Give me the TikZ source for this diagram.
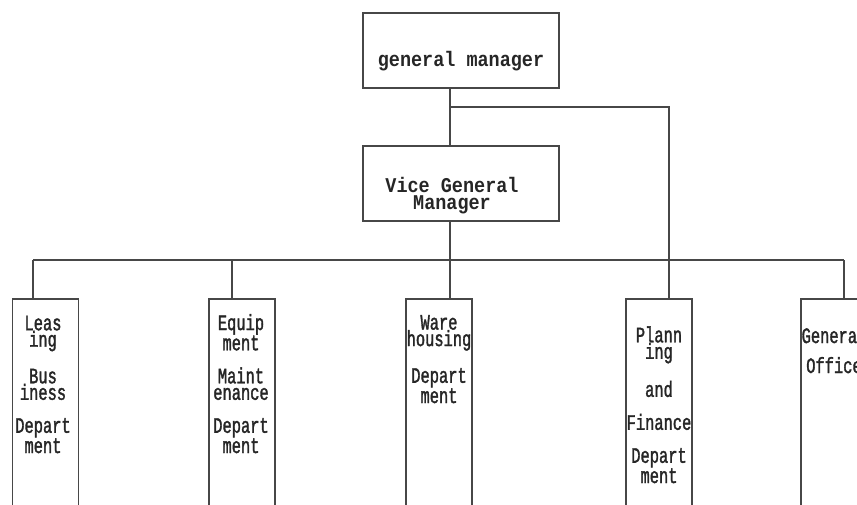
\documentclass[tikz,border=0pt]{standalone}
\usepackage{fontspec}
\newfontfamily\bossfont[FakeStretch=0.88]{Liberation Mono}
\newfontfamily\deptfont[FakeStretch=0.7,FakeBold=1.5]{Liberation Mono}

\begin{document}
\begin{tikzpicture}[x=1pt,y=-1pt]
	%Picture frame, measured in pixels from the top left corner
	\useasboundingbox (0,0) rectangle (857,504);
	\clip (0,0) rectangle (857,504);
	\tikzset{
		box/.style={draw=black!72, line width=1.7pt, fill=white, inner sep=0pt},
		link/.style={draw=black!72, line width=1.7pt},
		bossbox/.style={box, minimum width=196pt, minimum height=75pt},
		deptbox/.style={box, minimum width=66pt, minimum height=240pt, anchor=north},
		bosstext/.style={font=\bossfont\bfseries\fontsize{21}{17}\selectfont, align=center, anchor=base, text=black!85},
		depttext/.style={font=\deptfont\fontsize{22}{16.5}\selectfont, align=center, anchor=base, text=black!85}
	}
	%Gap between groups of lines in the department boxes
	\pgfmathsetmacro{\gap}{16.5}

	%The two managers (base anchor = last line)
	\draw node[bossbox] (gm) at (461,50.5) {};
	\path (gm)+(0,16) node[bosstext] {general manager};
	\draw node[bossbox] (vgm) at (461,183.5) {};
	\path (vgm)+(-9,25.5) node[bosstext] {Vice General\\Manager};

	%The departments, their tops on one line
	\draw node[deptbox] (lease) at (45.5,298) {};
	\path (lease.north)+(-2.5,155) node[depttext] {Leas\\ing\\[\gap pt]Bus\\iness\\[\gap pt]Depart\\ment};
	\draw node[deptbox] (equip) at (242,298) {};
	\path (equip.north)+(-1,155) node[depttext] {Equip\\ment\\[\gap pt]Maint\\enance\\[\gap pt]Depart\\ment};
	\draw node[deptbox] (ware) at (439,298) {};
	\path (ware.north)+(0,105) node[depttext] {Ware\\housing\\[\gap pt]Depart\\ment};
	\draw node[deptbox] (plan) at (659,298) {};
	\path (plan.north)+(0,185) node[depttext] {Plann\\ing\\[\gap pt]and\\[\gap pt]Finance\\[\gap pt]Depart\\ment};
	\draw node[deptbox] (office) at (834,298) {};
	\path (office.north)+(0,75) node[depttext] {General\\[13.5pt]Office};

	%Connectors
	\coordinate (fork) at (450,107);
	\coordinate (bus) at (450,260);
	\draw[link] (gm.south -| fork) -- (vgm.north -| fork);
	\draw[link] (fork) -| ([xshift=10pt]plan.north);
	\draw[link] (vgm.south -| bus) -- (bus);
	\draw[link] ([xshift=-12.5pt]lease.north |- bus) -- ([xshift=10pt]office.north |- bus);
	\foreach \n/\dx in {lease/-12.5, equip/-10, ware/11, office/10}
		\draw[link] ([xshift=\dx pt]\n.north) -- ([xshift=\dx pt]\n.north |- bus);

\end{tikzpicture}
\end{document}
